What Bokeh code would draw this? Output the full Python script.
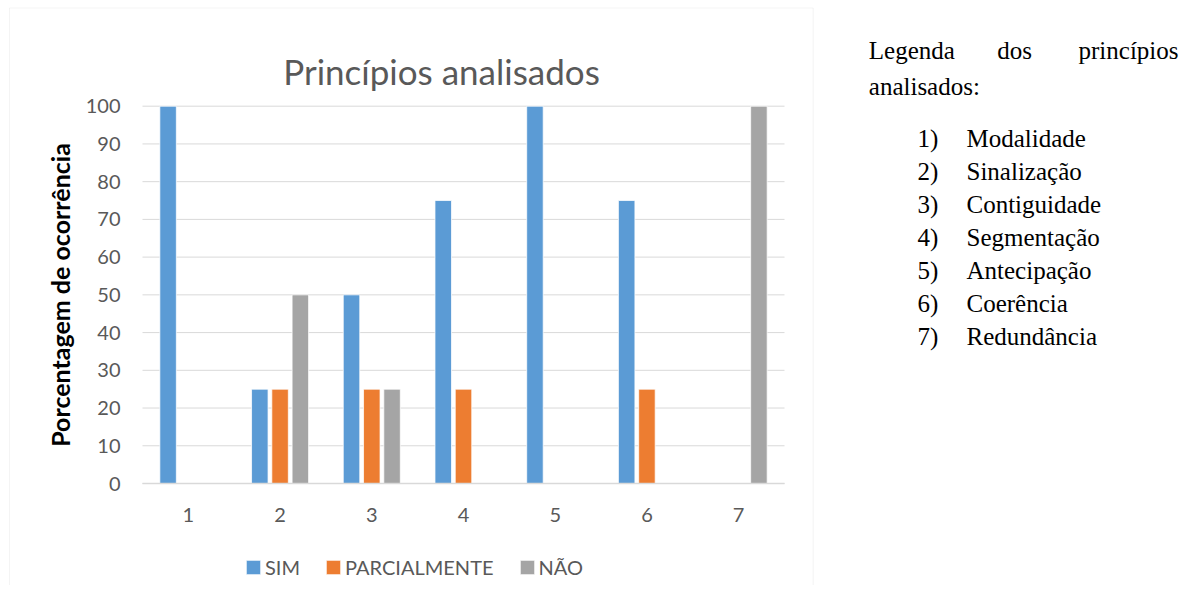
from bokeh.plotting import figure
from bokeh.models import Range1d, Legend, LegendItem, Label, FixedTicker, BoxAnnotation
from bokeh.transform import dodge
from bokeh.embed import file_html
from bokeh.resources import INLINE

# ---- data ----
categories = ["1", "2", "3", "4", "5", "6", "7"]
sim = [100, 25, 50, 75, 100, 75, 0]
parcialmente = [0, 25, 25, 25, 0, 25, 0]
nao = [0, 50, 25, 0, 0, 0, 100]
y_ticks = [0, 10, 20, 30, 40, 50, 60, 70, 80, 90, 100]
series_names = ["SIM", "PARCIALMENTE", "NÃO"]
title_text = "Princípios analisados"
y_label = "Porcentagem de ocorrência"
legend_title_words = ["Legenda", "dos", "princípios"]
legend_second_line = "analisados:"
principles = ["Modalidade", "Sinalização", "Contiguidade", "Segmentação",
              "Antecipação", "Coerência", "Redundância"]

COLORS = ["#5B9BD5", "#ED7D31", "#A5A5A5"]
GRID = "#D9D9D9"
TXT = "#595959"

W, H = 1184, 585
PLOT_L, PLOT_B = 142.0, 483.0            # pixel position of the plot area's left / bottom
PX_PER_CAT = 642.0 / len(categories)     # plot area is 642 px wide
PX_PER_PCT = 377.3 / 100.0               # plot area is 377 px tall

xpos = list(range(1, len(categories) + 1))
x_start = 0.5 - PLOT_L / PX_PER_CAT
x_end = 0.5 + (W - PLOT_L) / PX_PER_CAT
y_start = -(H - PLOT_B) / PX_PER_PCT
y_end = PLOT_B / PX_PER_PCT


def sx(px):          # screen units, relative to the frame's left
    return px


def sy(py):          # screen units, upward from the frame's bottom
    return H - py


p = figure(width=W, height=H, title=None,
           x_range=Range1d(x_start, x_end), y_range=Range1d(y_start, y_end),
           output_backend="svg", toolbar_location=None, min_border=0)
p.outline_line_color = None
p.background_fill_color = "white"
p.border_fill_color = "white"
p.xgrid.grid_line_color = None
p.ygrid.grid_line_color = None

# chart border
p.add_layout(BoxAnnotation(left=sx(9), right=sx(812.7), top=sy(7.5), bottom=sy(600),
                           left_units="screen", right_units="screen",
                           top_units="screen", bottom_units="screen",
                           fill_alpha=0, line_color=GRID, line_width=1, level="underlay"))

# horizontal gridlines, limited to the plot area
p.segment(x0=0.5, x1=len(categories) + 0.5, y0=y_ticks, y1=y_ticks,
          line_color=GRID, line_width=1)

data = dict(x=xpos, sim=sim, parc=parcialmente, nao=nao)
renderers = []
for key, off, col in [("sim", -0.221, COLORS[0]), ("parc", 0.0, COLORS[1]), ("nao", 0.221, COLORS[2])]:
    r = p.vbar(x=dodge("x", off), top=key, width=0.18, source=data,
               fill_color=col, line_color="white", line_width=0.75)
    renderers.append(r)

# y axis (drawn at the plot area's left edge)
yax = p.yaxis[0]
yax.fixed_location = 0.5
yax.ticker = FixedTicker(ticks=y_ticks)
yax.bounds = (0, 100)
yax.axis_line_color = None
yax.major_tick_line_color = None
yax.minor_tick_line_color = None
yax.major_tick_out = 0
yax.minor_tick_out = 0
yax.major_label_standoff = 22
yax.major_label_text_font = "Lato"
yax.major_label_text_font_size = "20px"
yax.major_label_text_color = TXT
yax.axis_label = y_label
yax.axis_label_text_font = "Lato"
yax.axis_label_text_font_style = "bold"
yax.axis_label_text_font_size = "25px"
yax.axis_label_text_color = "black"
yax.axis_label_standoff = 8

# x axis (drawn at value 0)
xax = p.xaxis[0]
xax.fixed_location = 0
xax.ticker = FixedTicker(ticks=xpos)
xax.major_label_overrides = {x: c for x, c in zip(xpos, categories)}
xax.bounds = (0.5, len(categories) + 0.5)
xax.axis_line_color = GRID
xax.axis_line_width = 1.5
xax.major_tick_line_color = None
xax.minor_tick_line_color = None
xax.major_tick_out = 0
xax.minor_tick_out = 0
xax.major_label_standoff = 24
xax.major_label_text_font = "Lato"
xax.major_label_text_font_size = "20px"
xax.major_label_text_color = TXT

legend = Legend(items=[LegendItem(label=n, renderers=[r]) for n, r in zip(series_names, renderers)],
                orientation="horizontal", location=(244, 6),
                padding=0, margin=0, border_line_color=None, background_fill_alpha=0,
                glyph_width=18, glyph_height=18, label_standoff=3, spacing=24,
                label_text_font="Lato", label_text_font_size="20px", label_text_color=TXT)
p.add_layout(legend)

# chart title
p.add_layout(Label(x=sx(441), y=sy(70), x_units="screen", y_units="screen",
                   text=title_text, text_font="Lato", text_font_size="35px",
                   text_color=TXT, text_align="center", text_baseline="alphabetic"))

# right-hand text
SERIF = "Liberation Serif"
FS = "25px"


def add_text(txt, px, py, align="left"):
    p.add_layout(Label(x=sx(px), y=sy(py), x_units="screen", y_units="screen", text=txt,
                       text_font=SERIF, text_font_size=FS, text_color="black",
                       text_align=align, text_baseline="alphabetic"))


for word, px, align in zip(legend_title_words, [868.3, 996.7, 1178], ["left", "left", "right"]):
    add_text(word, px, 49.5, align)
add_text(legend_second_line, 868.3, 86)
for i, name in enumerate(principles):
    base = 138.3 + 33 * i
    add_text(f"{i + 1})", 917, base)
    add_text(name, 966, base)

open("out.html", "w").write(file_html(p, INLINE))
